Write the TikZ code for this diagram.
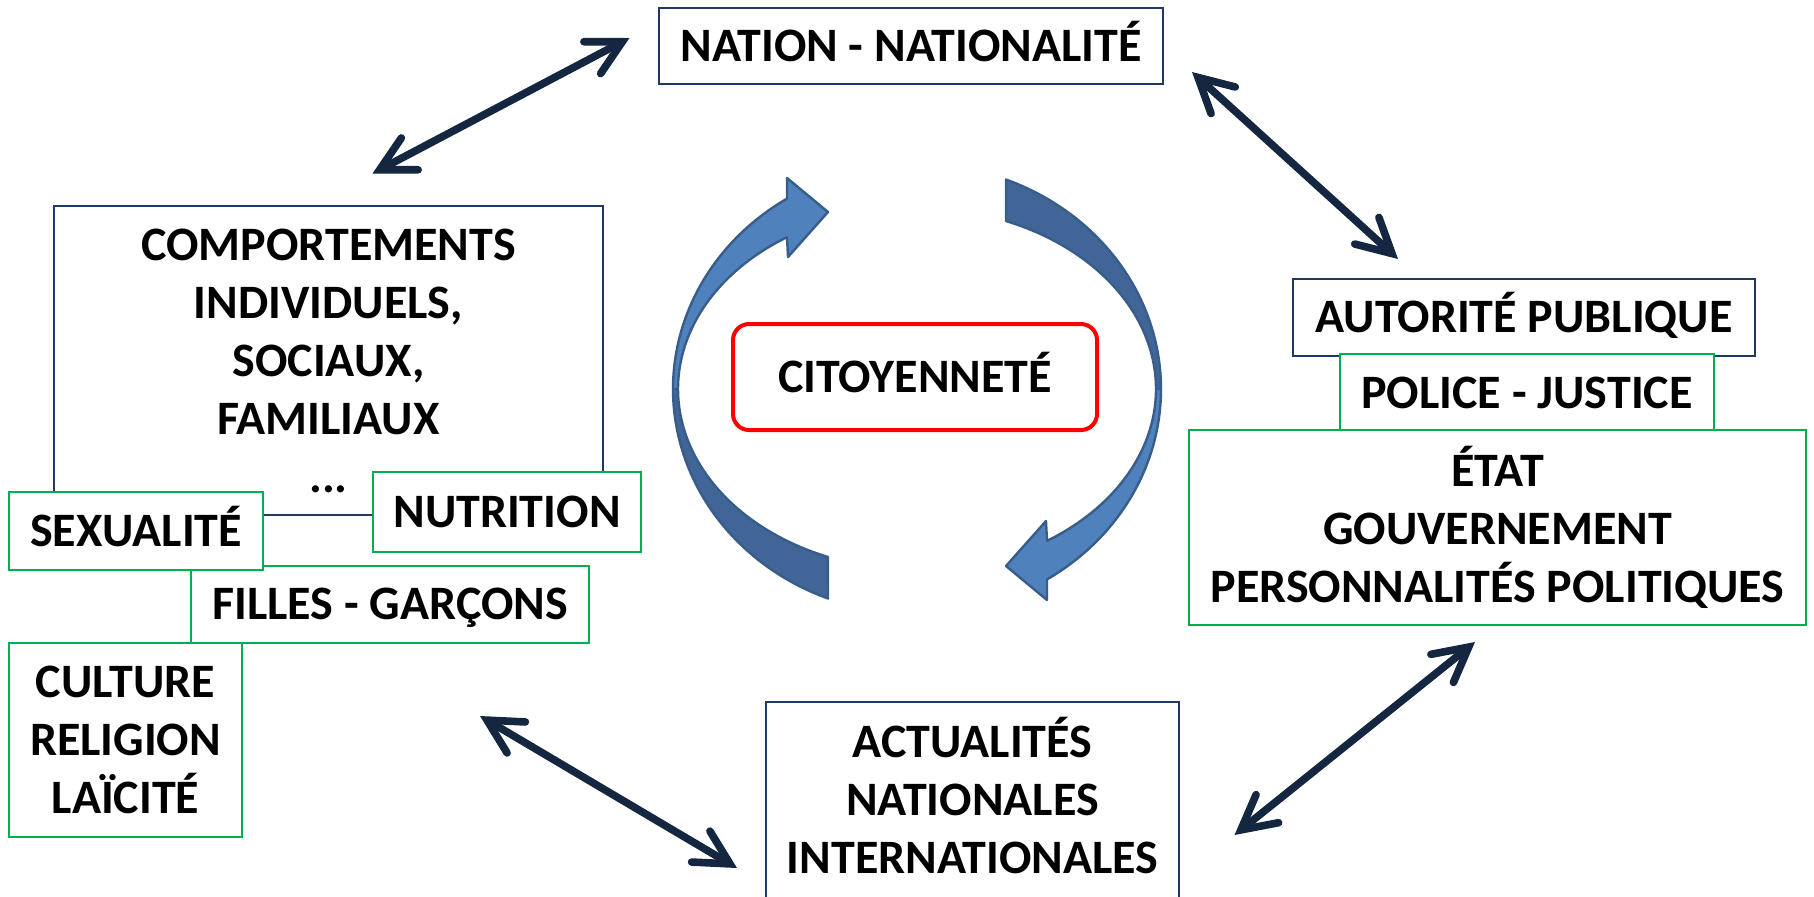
\documentclass[tikz,border=0pt]{standalone}
\usepackage{fontspec}
\setmainfont{Carlito}
\usetikzlibrary{arrows.meta}
\definecolor{navy}{RGB}{31,56,100}
\definecolor{grn}{RGB}{0,176,80}
\definecolor{arrownavy}{RGB}{20,38,64}
\definecolor{lightb}{RGB}{79,129,189}
\definecolor{darkb}{RGB}{64,102,152}
\definecolor{outb}{RGB}{56,93,138}
\newcommand{\cyclearrow}{%
  \path[backband] plot[domain=180:111.4, samples=50, variable=\t] ({917+244*cos(\t)},{389+225*sin(\t)})
    -- plot[domain=111.9:180, samples=50, variable=\t] ({917+239*cos(\t)},{389+181*sin(\t)}) -- cycle;
  \path[frontband] plot[domain=180:237.8, samples=50, variable=\t] ({917+244*cos(\t)},{389+225*sin(\t)})
    -- (787,178) -- (828,212) -- (788,257) -- (787,237.2)
    -- plot[domain=237:180, samples=50, variable=\t] ({917+239*cos(\t)},{389+181*sin(\t)}) -- cycle;
}
\begin{document}
\begin{tikzpicture}[x=0.5pt,y=-0.5pt,
  every node/.style={font=\bfseries\fontsize{24}{29}\selectfont, align=center, inner sep=0pt},
  navybox/.style={draw=navy, line width=1pt, fill=white},
  greenbox/.style={draw=grn, line width=1pt, fill=white},
  oneline/.style={text height=15.2pt, text depth=0pt},
  link/.style={draw=arrownavy, line width=3.8pt, line cap=round,
    {Straight Barb[length=17pt,width=18pt,line cap=round]}-{Straight Barb[length=17pt,width=18pt,line cap=round]}},
  backband/.style={fill=darkb, draw=outb, line width=1.2pt, line join=round},
  frontband/.style={fill=lightb, draw=outb, line width=1.2pt, line join=round}
]
\useasboundingbox (0,0) rectangle (1814,896);

% curved arrows
\cyclearrow
\begin{scope}[rotate around={180:(917,389)}]
\cyclearrow
\end{scope}

\node[draw=red, line width=2pt, rounded corners=8pt, minimum width=182pt, minimum height=53pt, oneline] (cit) at (915,377) {CITOYENNETÉ};

\node[navybox, minimum width=252pt, minimum height=38pt, oneline] (nation) at (911,46) {NATION - NATIONALITÉ};

\node[navybox, minimum width=274.5pt, minimum height=154.5pt] (comp) at (328.5,360.5) {COMPORTEMENTS\\INDIVIDUELS,\\SOCIAUX,\\FAMILIAUX\\...};
\node[greenbox, minimum width=199pt, minimum height=38.5pt, oneline] (filles) at (390,604.5) {FILLES - GARÇONS};
\node[greenbox, minimum width=116.5pt, minimum height=97pt] (culture) at (125.5,740) {CULTURE\\RELIGION\\LAÏCITÉ};
\node[greenbox, minimum width=127pt, minimum height=39pt, oneline] (sex) at (136,531) {SEXUALITÉ};
\node[greenbox, minimum width=134pt, minimum height=40pt, oneline] (nutri) at (507,512) {NUTRITION};

\node[navybox, minimum width=206.5pt, minimum height=98pt] (actu) at (972.5,800) {ACTUALITÉS\\NATIONALES\\INTERNATIONALES\rule[-5pt]{0pt}{0pt}};

\node[navybox, minimum width=230.75pt, minimum height=38.5pt, oneline] (auto) at (1524,317.5) {AUTORITÉ PUBLIQUE};
\node[greenbox, minimum width=186.75pt, minimum height=38.75pt, oneline] (police) at (1527,393) {POLICE - JUSTICE};
\node[greenbox, minimum width=308.5pt, minimum height=97.5pt] (etat) at (1497.5,527.5) {ÉTAT\\GOUVERNEMENT\\PERSONNALITÉS POLITIQUES};

% double arrows
\coordinate (a1s) at (629.5,38);
\coordinate (a1e) at (372.5,173.5);
\coordinate (a2s) at (1192,72);
\coordinate (a2e) at (1398,259);
\coordinate (a3s) at (1475,642);
\coordinate (a3e) at (1234.5,835);
\coordinate (a4s) at (480,716);
\coordinate (a4e) at (737,868);
\draw[link] (a1e) -- (a1s);
\draw[link] (a2s) -- (a2e);
\draw[link] (a3s) -- (a3e);
\draw[link] (a4s) -- (a4e);
\end{tikzpicture}
\end{document}
